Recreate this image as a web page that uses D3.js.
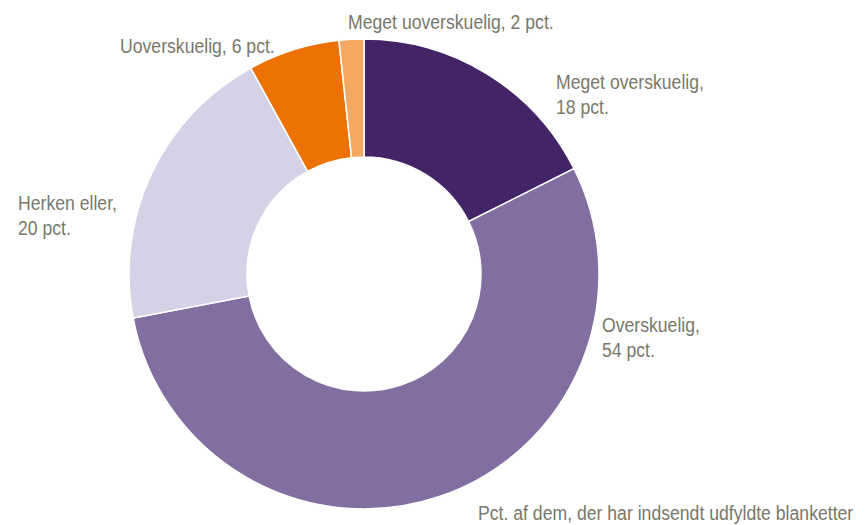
<!DOCTYPE html>
<html>
<head>
<meta charset="utf-8">
<script src="https://cdn.jsdelivr.net/npm/d3@7"></script>
<style>
  body { margin: 0; background: #fff; }
  text { font-family: "Liberation Sans", Arial, sans-serif; fill: #78786a; }
</style>
</head>
<body>
<div id="chart"></div>
<script>
const width = 867;
const height = 525;

const categories = ["Meget overskuelig", "Overskuelig", "Herken eller", "Uoverskuelig", "Meget uoverskuelig"];
const values = [17.6, 54.4, 20.0, 6.3, 1.7];
const colors = ["#432567", "#826ea0", "#d5d1e6", "#ee7203", "#f5a862"];
const footnote = "Pct. af dem, der har indsendt udfyldte blanketter";

// label placement (left edge x, first baseline y, one or two lines)
const labelPos = [
  { x: 556, y: 89, split: true },
  { x: 602, y: 332, split: true },
  { x: 18, y: 210, split: true },
  { x: 120, y: 53, split: false },
  { x: 348, y: 29, split: false }
];

const cx = 364, cy = 274;
const outerR = 235, innerR = 117;
const narrow = 0.84; // mimic a condensed face
const fontSize = 21;
const lineGap = 24.5;

const svg = d3.select("#chart")
  .append("svg")
  .attr("width", width)
  .attr("height", height);

const pie = d3.pie().sort(null).value(d => d);
const arc = d3.arc().innerRadius(innerR).outerRadius(outerR);

const g = svg.append("g").attr("transform", `translate(${cx},${cy})`);

g.selectAll("path")
  .data(pie(values))
  .enter()
  .append("path")
  .attr("d", arc)
  .attr("fill", (d, i) => colors[i])
  .attr("stroke", "#fff")
  .attr("stroke-width", 1.5);

function addText(x, y, str) {
  svg.append("text")
    .attr("transform", `translate(${x},${y}) scale(${narrow},1)`)
    .attr("font-size", fontSize + "px")
    .text(str);
}

categories.forEach((d, i) => {
  const p = labelPos[i];
  const pct = Math.round(values[i]) + " pct.";
  if (p.split) {
    addText(p.x, p.y, d + ",");
    addText(p.x, p.y + lineGap, pct);
  } else {
    addText(p.x, p.y, d + ", " + pct);
  }
});

addText(478, 520, footnote);
</script>
</body>
</html>
